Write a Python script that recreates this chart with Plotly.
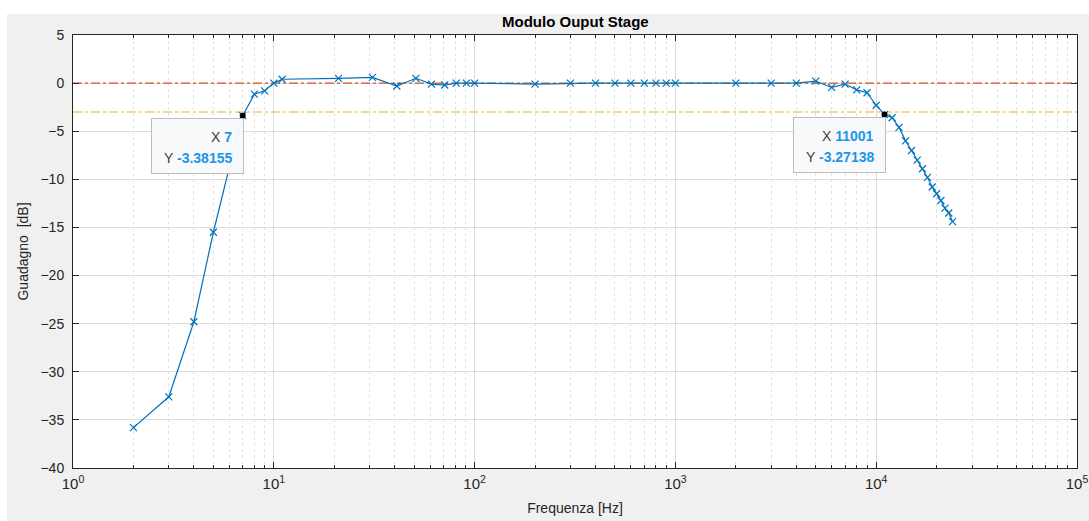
import numpy as np
import plotly.graph_objects as go

# ---------------- data ----------------
freq = [2, 3, 4, 5, 6, 7, 8, 9, 10, 11,
        21, 31, 41, 51, 61, 71, 81, 91,
        100, 200, 300, 400, 500, 600, 700, 800, 900, 1000,
        2000, 3000, 4000, 5000, 6000, 7000, 8000, 9000, 10000, 11001,
        12000, 13000, 14000, 15000, 16000, 17000, 18000, 19000, 20000,
        21000, 22000, 23000, 24000]
gain = [-35.8, -32.6, -24.8, -15.5, -8.8, -3.38155, -1.15, -0.8, 0.0, 0.4,
        0.5, 0.6, -0.3, 0.5, -0.1, -0.2, 0.0, 0.0,
        0.0, -0.1, 0.0, 0.0, 0.0, 0.0, 0.0, 0.0, 0.0, 0.0,
        0.0, 0.0, 0.0, 0.2, -0.45, -0.1, -0.7, -1.0, -2.3, -3.27138,
        -3.6, -4.6, -6.0, -7.0, -8.0, -8.9, -9.8, -10.8, -11.5,
        -12.2, -13.0, -13.5, -14.4]

ref_levels = [0, -3]
ref_colors = ["#D95319", "#EDB120"]

tip_x = [7, 11001]
tip_y = [-3.38155, -3.27138]

x_major = [1, 10, 100, 1000, 10000, 100000]
x_major_text = ["10<sup>0</sup>", "10<sup>1</sup>", "10<sup>2</sup>",
                "10<sup>3</sup>", "10<sup>4</sup>", "10<sup>5</sup>"]
x_minor = [m * d for d in [1, 10, 100, 1000, 10000] for m in range(2, 10)]

title = "Modulo Ouput Stage"
xlabel = "Frequenza [Hz]"
ylabel = "Guadagno  [dB]"

# ---------------- layout geometry ----------------
W, H = 1089, 521
ML, MR, MT, MB = 73, 12, 35, 53
PW, PH = W - ML - MR, H - MT - MB
FONT = "Liberation Sans, Arial, Helvetica, sans-serif"
AXC = "#262626"

fig = go.Figure()

for lvl, col in zip(ref_levels, ref_colors):
    fig.add_trace(go.Scatter(x=[1, 100000], y=[lvl, lvl], mode="lines",
                             line=dict(color=col, width=1.2, dash="dashdot"),
                             hoverinfo="skip", showlegend=False))

fig.add_trace(go.Scatter(x=freq, y=gain, mode="lines+markers",
                         line=dict(color="#0072BD", width=1.2),
                         marker=dict(symbol="x-thin", size=7,
                                     line=dict(color="#0072BD", width=1.2)),
                         showlegend=False))

fig.add_trace(go.Scatter(x=tip_x, y=tip_y, mode="markers",
                         marker=dict(color="black", size=6),
                         showlegend=False))

shapes = []
# figure background (white strip top/left, grey panel)
shapes.append(dict(type="rect", xref="paper", yref="paper", layer="below",
                   x0=(7 - ML) / PW, x1=(W - ML) / PW,
                   y0=(MT + PH - H) / PH, y1=(MT + PH - 14) / PH,
                   fillcolor="#f0f0f0", line=dict(width=0)))
shapes.append(dict(type="rect", xref="paper", yref="paper", layer="below",
                   x0=0, x1=1, y0=0, y1=1,
                   fillcolor="white", line=dict(width=0)))

annotations = []
for tx, ty in zip(tip_x, tip_y):
    # datatip box
    annotations.append(dict(
        x=np.log10(tx), y=ty, xref="x", yref="y", showarrow=False,
        xanchor="right", yanchor="top", xshift=1, yshift=-2,
        text="&nbsp;", width=89, height=52, borderpad=1,
        bgcolor="rgba(248,249,251,0.97)", bordercolor="#bdbdbd", borderwidth=1,
        font=dict(family=FONT, size=14, color="#404040")))
    annotations.append(dict(
        x=np.log10(tx), y=ty, xref="x", yref="y", showarrow=False,
        xanchor="right", yanchor="middle", xshift=-9, yshift=-21,
        text='X <b><span style="color:#1a96e8">%g</span></b>' % tx,
        font=dict(family=FONT, size=14, color="#404040")))
    annotations.append(dict(
        x=np.log10(tx), y=ty, xref="x", yref="y", showarrow=False,
        xanchor="right", yanchor="middle", xshift=-9, yshift=-42,
        text='Y <b><span style="color:#1a96e8">%s</span></b>' % repr(ty),
        font=dict(family=FONT, size=14, color="#404040")))

annotations.append(dict(x=0.5, y=(MT + PH - 21) / PH, xref="paper", yref="paper",
                        showarrow=False, xanchor="center", yanchor="middle",
                        text="<b>%s</b>" % title,
                        font=dict(family=FONT, size=15, color="black")))

fig.update_layout(
    width=W, height=H,
    margin=dict(l=ML, r=MR, t=MT, b=MB, pad=0),
    paper_bgcolor="white", plot_bgcolor="rgba(0,0,0,0)",
    font=dict(family=FONT, size=14, color=AXC),
    shapes=shapes, annotations=annotations,
    showlegend=False,
)

fig.update_xaxes(type="log", range=[0, 5], automargin=False,
                 tickmode="array", tickvals=x_major, ticktext=x_major_text,
                 ticks="inside", ticklen=6, tickcolor=AXC, tickwidth=1,
                 showline=True, linecolor=AXC, linewidth=1, mirror="allticks",
                 showgrid=True, gridcolor="#dcdcdc", gridwidth=1,
                 zeroline=False, ticklabelstandoff=2,
                 minor=dict(tickmode="array", tickvals=x_minor, ticks="inside",
                            ticklen=3, tickcolor=AXC, showgrid=True,
                            gridcolor="#e2e2e2", griddash="dot", gridwidth=1),
                 tickfont=dict(size=15, color=AXC),
                 title=dict(text=xlabel, standoff=12,
                            font=dict(size=14, color=AXC)))

fig.update_yaxes(range=[-40, 5], tickmode="linear", tick0=-40, dtick=5,
                 automargin=False,
                 ticks="inside", ticklen=6, tickcolor=AXC, tickwidth=1,
                 showline=True, linecolor=AXC, linewidth=1, mirror="allticks",
                 showgrid=True, gridcolor="#dcdcdc", gridwidth=1,
                 zeroline=False, ticklabelstandoff=5,
                 tickfont=dict(size=14, color=AXC),
                 title=dict(text=ylabel, standoff=8,
                            font=dict(size=14, color=AXC)))

fig.write_html("out.html")
